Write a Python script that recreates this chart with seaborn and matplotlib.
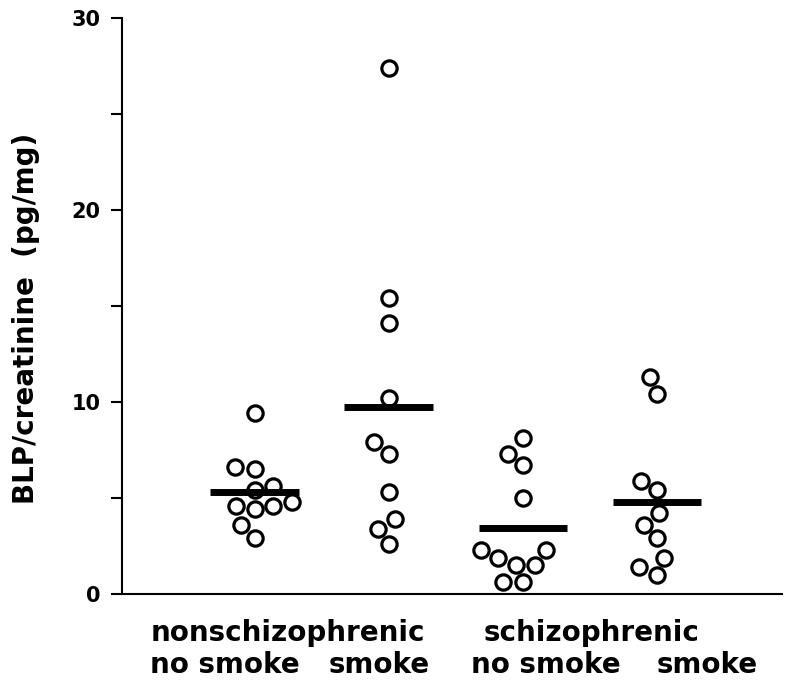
import pandas as pd
import numpy as np
import seaborn as sns
import matplotlib.pyplot as plt
import matplotlib.transforms as mtransforms

# BLP/creatinine values (pg/mg)
groups = ['ns_nosmoke', 'ns_smoke', 's_nosmoke', 's_smoke']
ns_nosmoke = [9.4, 6.6, 6.5, 5.6, 5.4, 4.8, 4.6, 4.6, 4.4, 3.6, 2.9]
ns_smoke = [27.4, 15.4, 14.1, 10.2, 7.9, 7.3, 5.3, 3.9, 3.4, 2.6]
s_nosmoke = [8.1, 7.3, 6.7, 5.0, 2.3, 2.3, 1.9, 1.5, 1.5, 0.6, 0.6]
s_smoke = [11.3, 10.4, 5.9, 5.4, 4.2, 3.6, 2.9, 1.9, 1.4, 1.0]

yticks = [0, 10, 20, 30]
yticks_minor = [5, 15, 25]

df = pd.concat([
    pd.DataFrame({'group': g, 'value': v})
    for g, v in zip(groups, [ns_nosmoke, ns_smoke, s_nosmoke, s_smoke])
], ignore_index=True)
means = df.groupby('group')['value'].mean().reindex(groups)

sns.set_style('ticks', rc={'text.color': 'black', 'axes.labelcolor': 'black',
                           'xtick.color': 'black', 'ytick.color': 'black',
                           'axes.edgecolor': 'black'})
plt.rcParams['font.family'] = ['DejaVu Sans']
plt.rcParams['font.weight'] = 'bold'

fig = plt.figure(figsize=(7.85, 6.82), dpi=100)
ax = fig.add_axes([0.155, 0.129, 0.841, 0.845])

sns.swarmplot(data=df, x='group', y='value', order=groups, ax=ax,
              color='white', edgecolor='black', linewidth=2.3, size=11,
              clip_on=False, zorder=3)

# mean bars
pos = np.arange(len(groups))
ax.hlines(means.values, pos - 0.33, pos + 0.33, color='black', linewidth=5, zorder=4)

ax.set_xlim(-0.99, 3.93)
ax.set_ylim(0, 30)
ax.set_yticks(yticks)
ax.set_yticks(yticks_minor, minor=True)
ax.set_xticks([])
ax.set_xlabel('')
ax.set_ylabel('')
ax.tick_params(axis='y', which='both', length=8, width=1.5, labelsize=15,
               direction='out', pad=7)
for lab in ax.get_yticklabels():
    lab.set_fontweight('bold')

sns.despine(ax=ax)
for s in ['left', 'bottom']:
    ax.spines[s].set_linewidth(1.5)

fig.text(26 / 785, 1 - 318 / 682, 'BLP/creatinine  (pg/mg)', rotation=90,
         ha='center', va='center', fontsize=20, fontweight='bold')

trans = mtransforms.blended_transform_factory(ax.transData, ax.transAxes)
labels = [
    (-0.776, -0.0816, 'nonschizophrenic'),
    (-0.776, -0.137, 'no smoke'),
    (0.552, -0.137, 'smoke'),
    (1.708, -0.0816, 'schizophrenic'),
    (1.61, -0.137, 'no smoke'),
    (2.998, -0.137, 'smoke'),
]
for x, y, t in labels:
    ax.text(x, y, t, transform=trans, ha='left', va='baseline',
            fontsize=20, fontweight='bold')

fig.savefig('out.png', dpi=100)
